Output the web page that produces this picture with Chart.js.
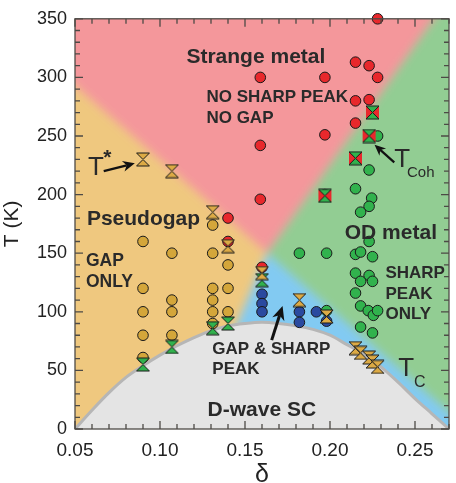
<!DOCTYPE html>
<html>
<head>
<meta charset="utf-8">
<script src="https://cdn.jsdelivr.net/npm/chart.js@4.4.0/dist/chart.umd.min.js"></script>
<style>
  html, body { margin: 0; padding: 0; background: #fff; }
  #wrap { width: 456px; height: 483px; }
</style>
</head>
<body>
<div id="wrap"><canvas id="phase"></canvas></div>
<script>
const xTicks = [0.05, 0.10, 0.15, 0.20, 0.25];
const yTicks = [0, 50, 100, 150, 200, 250, 300, 350];

// measured points, [doping, T (K)]
const gapOnly = [[0.09,160],[0.09,120],[0.09,100],[0.09,80],[0.09,61],
  [0.107,150],[0.107,110],[0.107,100],[0.107,80],
  [0.131,174],[0.131,150],[0.131,120],[0.131,110],[0.131,100],[0.131,90],
  [0.14,140],[0.14,120],[0.14,100]];
const noPeakNoGap = [[0.228,350],[0.215,313],[0.223,310],[0.228,300],[0.159,300],[0.197,300],
  [0.215,280],[0.223,281],[0.215,261],[0.197,251],[0.159,242],[0.159,196],[0.197,200],
  [0.14,180],[0.14,160],[0.16,138]];
const peakOnly = [[0.228,250],[0.223,221],[0.215,205],[0.2245,197],[0.223,190],[0.218,185],
  [0.223,160],[0.182,150],[0.198,150],[0.215,149],[0.218,151],[0.225,147],[0.215,133],
  [0.223,131],[0.218,126],[0.225,126],[0.215,116],[0.218,105],[0.2225,101],[0.2255,97],
  [0.228,101],[0.218,87],[0.225,82],[0.198,101]];
const gapAndPeak = [[0.16,115],[0.16,107],[0.16,100],[0.182,100],[0.182,91],[0.192,100],[0.198,92]];
const tStar = [[0.09,230],[0.107,220],[0.131,185],[0.14,156],[0.16,133],[0.182,110]];
const tcOver = [[0.198,96],[0.215,69],[0.218,65],[0.223,61],[0.225,57.5],[0.228,53]];
const tcUnder = [[0.09,55],[0.107,70],[0.131,86],[0.14,90],[0.16,127]];
const tCoh = [[0.225,270],[0.223,250],[0.215,231],[0.197,199]];

// superconducting dome
const domeX = [0.05,0.06,0.07,0.08,0.09,0.10,0.11,0.12,0.13,0.14,0.15,0.16,0.17,0.18,0.19,0.20,0.21,0.22,0.23,0.24,0.25,0.26,0.27];
const domeT = [0,16,31,44,54,63,71,78,84,88,90,91,90,88,85,80,72,64,53,40,26,13,0];

// crossover lines meeting at the apex; run past the frame so the blur has room
const apex = [0.163, 150];
const tStarLine = [[0.03,318], apex, [0.29,-11]];
const tCohLine = [[0.2757,380], apex, [0.108,-38]];

const FONT = "'Liberation Sans', Arial, sans-serif";
const INK = '#2a2a2a';

const regions = [
  { color: '#f4979b', pts: [tStarLine[0], apex, tCohLine[0], [0.03,380]] },
  { color: '#efc87f', pts: [tStarLine[0], apex, tCohLine[2], [0.03,-38]] },
  { color: '#92cd93', pts: [tCohLine[0], apex, tStarLine[2], [0.29,380]] },
  { color: '#82caf2', pts: [apex, tCohLine[2], [0.29,-38], tStarLine[2]] }
];

const notes = [
  { text: 'Strange metal', x: 0.1564, y: 317.5, size: 21, bold: true, align: 'center' },
  { text: 'NO SHARP PEAK', x: 0.1273, y: 282.7, size: 17, bold: true },
  { text: 'NO GAP', x: 0.1273, y: 265, size: 17, bold: true },
  { text: 'Pseudogap', x: 0.057, y: 179, size: 21, bold: true },
  { text: 'GAP', x: 0.0564, y: 143.6, size: 17.5, bold: true },
  { text: 'ONLY', x: 0.0564, y: 125.6, size: 17.5, bold: true },
  { text: 'OD metal', x: 0.2087, y: 166.7, size: 21, bold: true },
  { text: 'SHARP', x: 0.2326, y: 132.5, size: 17, bold: true },
  { text: 'PEAK', x: 0.2326, y: 115, size: 17, bold: true },
  { text: 'ONLY', x: 0.2326, y: 97.5, size: 17, bold: true },
  { text: 'GAP & SHARP', x: 0.1308, y: 68.3, size: 17, bold: true },
  { text: 'PEAK', x: 0.1308, y: 50.8, size: 17, bold: true },
  { text: 'D-wave SC', x: 0.1599, y: 15.8, size: 21, bold: true, align: 'center' },
  { text: 'T', x: 0.0576, y: 223, size: 26 },
  { text: '*', x: 0.0666, y: 231, size: 21, bold: true },
  { text: 'T', x: 0.2378, y: 230, size: 26 },
  { text: 'Coh', x: 0.2453, y: 218.3, size: 15 },
  { text: 'T', x: 0.2401, y: 51.2, size: 26 },
  { text: 'C', x: 0.2494, y: 40, size: 16 }
];
const arrows = [
  { from: [0.0669,220], to: [0.0852,226.7], width: 2.2, head: 12 },
  { from: [0.2378,227.5], to: [0.2262,242.5], width: 2.2, head: 11 },
  { from: [0.1657,75.8], to: [0.1721,105], width: 3, head: 14 }
];

function hourglass(fill, side) {
  const s = 13, c = document.createElement('canvas');
  c.width = s + 2; c.height = s + 2;
  const g = c.getContext('2d');
  g.translate(1, 1);
  if (side) {
    g.fillStyle = side;
    g.beginPath(); g.moveTo(0, 0); g.lineTo(s / 2, s / 2); g.lineTo(0, s); g.closePath(); g.fill();
    g.beginPath(); g.moveTo(s, 0); g.lineTo(s / 2, s / 2); g.lineTo(s, s); g.closePath(); g.fill();
  }
  g.fillStyle = fill; g.strokeStyle = '#1a1a1a'; g.lineWidth = 1;
  g.beginPath(); g.moveTo(0, 0); g.lineTo(s, 0); g.lineTo(s / 2, s / 2); g.closePath(); g.fill(); g.stroke();
  g.beginPath(); g.moveTo(0, s); g.lineTo(s, s); g.lineTo(s / 2, s / 2); g.closePath(); g.fill(); g.stroke();
  return c;
}

const GOLD = '#d4a63a', RED = '#e8282c', GREEN = '#31b24d', BLUE = '#2a4a9f';

function circles(data, color, order, clip) {
  return { type: 'scatter', data, order, clip: clip ? false : undefined,
    pointStyle: 'circle', pointRadius: 5.3, pointHoverRadius: 5.3,
    backgroundColor: color, borderColor: '#1a1a1a', borderWidth: 1 };
}
function marks(data, img, order) {
  return { type: 'scatter', data, order, pointStyle: img, pointRadius: 6,
    backgroundColor: 'transparent', borderColor: 'transparent' };
}

const regionPlugin = {
  id: 'regions',
  beforeDatasetsDraw(chart) {
    const { ctx, chartArea: a, scales: { x, y } } = chart;
    const pad = 80;
    const off = document.createElement('canvas');
    off.width = chart.width + 2 * pad; off.height = chart.height + 2 * pad;
    const g = off.getContext('2d');
    g.translate(pad, pad);
    regions.forEach(r => {
      g.fillStyle = r.color;
      g.beginPath();
      r.pts.forEach(([d, t], i) => {
        const px = x.getPixelForValue(d), py = y.getPixelForValue(t);
        i ? g.lineTo(px, py) : g.moveTo(px, py);
      });
      g.closePath(); g.fill();
    });
    ctx.save();
    ctx.beginPath(); ctx.rect(a.left, a.top, a.width, a.height); ctx.clip();
    ctx.filter = 'blur(5px)';
    ctx.drawImage(off, -pad, -pad);
    ctx.restore();
  }
};

function drawArrow(ctx, x0, y0, x1, y1, w, head) {
  const ang = Math.atan2(y1 - y0, x1 - x0), c = Math.cos(ang), s = Math.sin(ang);
  ctx.lineWidth = w;
  ctx.beginPath(); ctx.moveTo(x0, y0); ctx.lineTo(x1 - c * head * 0.7, y1 - s * head * 0.7); ctx.stroke();
  ctx.beginPath();
  ctx.moveTo(x1, y1);
  ctx.lineTo(x1 - head * c + head * 0.45 * s, y1 - head * s - head * 0.45 * c);
  ctx.lineTo(x1 - head * 0.7 * c, y1 - head * 0.7 * s);
  ctx.lineTo(x1 - head * c - head * 0.45 * s, y1 - head * s + head * 0.45 * c);
  ctx.closePath(); ctx.fill();
}

const framePlugin = {
  id: 'frame',
  afterDatasetsDraw(chart) {
    const { ctx, chartArea: a, scales: { x, y } } = chart;
    ctx.save();
    // labels and arrows
    ctx.fillStyle = INK; ctx.strokeStyle = INK;
    notes.forEach(n => {
      ctx.font = (n.bold ? 'bold ' : '') + n.size + 'px ' + FONT;
      ctx.textAlign = n.align || 'left';
      ctx.textBaseline = 'middle';
      ctx.fillText(n.text, x.getPixelForValue(n.x), y.getPixelForValue(n.y));
    });
    ctx.fillStyle = '#111'; ctx.strokeStyle = '#111';
    arrows.forEach(r => drawArrow(ctx,
      x.getPixelForValue(r.from[0]), y.getPixelForValue(r.from[1]),
      x.getPixelForValue(r.to[0]), y.getPixelForValue(r.to[1]), r.width, r.head));

    // frame with inward ticks on all sides
    ctx.strokeStyle = '#4d4a46'; ctx.lineWidth = 1.3;
    ctx.strokeRect(a.left, a.top, a.width, a.height);
    ctx.beginPath();
    for (let i = 5; i <= 27; i++) {
      const px = x.getPixelForValue(i / 100), len = i % 5 === 0 ? 8 : 5;
      ctx.moveTo(px, a.bottom); ctx.lineTo(px, a.bottom - len);
      ctx.moveTo(px, a.top); ctx.lineTo(px, a.top + len);
    }
    for (let t = 0; t <= 350; t += 10) {
      const py = y.getPixelForValue(t), len = t % 50 === 0 ? 8 : 5;
      ctx.moveTo(a.left, py); ctx.lineTo(a.left + len, py);
      ctx.moveTo(a.right, py); ctx.lineTo(a.right - len, py);
    }
    ctx.stroke();
    ctx.restore();
  }
};

new Chart(document.getElementById('phase'), {
  data: {
    datasets: [
      { type: 'line', data: domeX.map((d, i) => ({ x: d, y: domeT[i] })), order: 20,
        fill: 'origin', backgroundColor: '#e4e4e4', borderColor: '#b6b6b6', borderWidth: 3,
        pointRadius: 0, cubicInterpolationMode: 'monotone' },
      circles(gapOnly, GOLD, 10),
      circles(noPeakNoGap, RED, 9, true),
      circles(peakOnly, GREEN, 8),
      circles(gapAndPeak, BLUE, 7),
      marks(tcUnder, hourglass('#31b24d'), 4),
      marks(tStar, hourglass('#dcaa45'), 3),
      marks(tcOver, hourglass('#dcaa45'), 2),
      marks(tCoh, hourglass('#31b24d', '#e8282c'), 1)
    ]
  },
  options: {
    responsive: true,
    maintainAspectRatio: false,
    animation: false,
    layout: { padding: { top: 9, right: 4, left: 0, bottom: 0 } },
    plugins: { legend: { display: false }, tooltip: { enabled: false } },
    scales: {
      x: {
        type: 'linear', min: 0.05, max: 0.27,
        afterBuildTicks: s => { s.ticks = xTicks.map(v => ({ value: v })); },
        afterFit: s => { s.height = 54; },
        grid: { display: false, drawTicks: false },
        border: { display: false },
        ticks: { callback: v => v.toFixed(2), font: { size: 19, family: FONT }, color: '#222', padding: 10, maxRotation: 0, autoSkip: false },
        title: { display: true, text: 'δ', font: { size: 25, family: FONT, lineHeight: 0.66 }, color: '#222', padding: 0 }
      },
      y: {
        type: 'linear', min: 0, max: 350,
        afterBuildTicks: s => { s.ticks = yTicks.map(v => ({ value: v })); },
        afterFit: s => { s.width = 75; },
        grid: { display: false, drawTicks: false },
        border: { display: false },
        ticks: { font: { size: 18, family: FONT }, color: '#222', padding: 8, autoSkip: false },
        title: { display: true, text: 'T (K)', font: { size: 21, family: FONT }, color: '#222', padding: 0 }
      }
    }
  },
  plugins: [regionPlugin, framePlugin]
});
</script>
</body>
</html>
